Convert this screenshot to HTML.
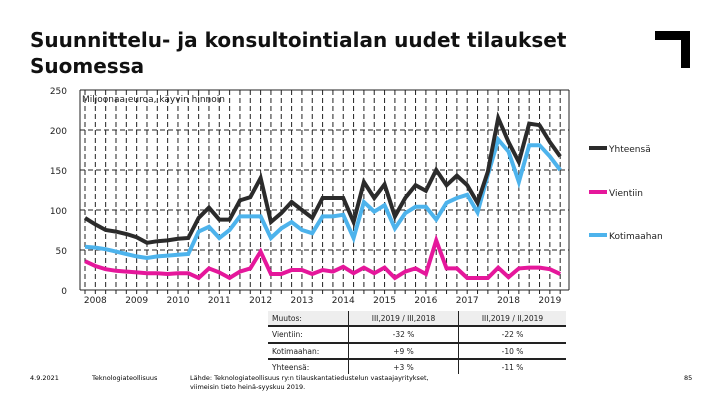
<!DOCTYPE html>
<html><head><meta charset="utf-8"><style>
body{margin:0;width:720px;height:405px;background:#fff;font-family:"DejaVu Sans","Liberation Sans",sans-serif;overflow:hidden;position:relative}
.t{position:absolute;white-space:nowrap}
.c2{position:absolute;left:81px;width:109px;text-align:center}
.c3{position:absolute;left:191px;width:107px;text-align:center}
</style></head><body>
<div class="t" style="left:30px;top:27px;font-size:20px;font-weight:bold;line-height:26px;color:#111">Suunnittelu- ja konsultointialan uudet tilaukset<br>Suomessa</div>
<svg style="position:absolute;left:650px;top:28px" width="45" height="42"><path d="M5 3H40V40H31V12H5Z" fill="#000"/></svg>
<svg id="chart" style="position:absolute;left:0;top:0" width="720" height="405"></svg>
<div style="position:absolute;left:268px;top:311px;font-size:7.5px;color:#222">
<div style="position:absolute;left:0;top:0;width:298px;height:14px;background:#eee"></div>
<div class="t" style="left:4px;top:3px">Muutos:</div><div class="c2" style="top:3px">III,2019 / III,2018</div><div class="c3" style="top:3px">III,2019 / II,2019</div>
<div class="t" style="left:4px;top:19px">Vientiin:</div><div class="c2" style="top:19px">-32 %</div><div class="c3" style="top:19px">-22 %</div>
<div class="t" style="left:4px;top:36px">Kotimaahan:</div><div class="c2" style="top:36px">+9 %</div><div class="c3" style="top:36px">-10 %</div>
<div class="t" style="left:4px;top:52px">Yhteensä:</div><div class="c2" style="top:52px">+3 %</div><div class="c3" style="top:52px">-11 %</div>
<div style="position:absolute;left:0;top:14px;width:298px;height:2px;background:#222"></div>
<div style="position:absolute;left:0;top:31px;width:298px;height:2px;background:#222"></div>
<div style="position:absolute;left:0;top:47px;width:298px;height:2px;background:#222"></div>
<div style="position:absolute;left:80px;top:0;width:1px;height:63px;background:#222"></div>
<div style="position:absolute;left:190px;top:0;width:1px;height:63px;background:#222"></div>
</div>
<div class="t" style="left:30px;top:374px;font-size:6.5px">4.9.2021</div>
<div class="t" style="left:92px;top:374px;font-size:6.5px">Teknologiateollisuus</div>
<div class="t" style="left:190px;top:374px;font-size:6.5px;line-height:9px">Lähde: Teknologiateollisuus ry:n tilauskantatiedustelun vastaajayritykset,<br>viimeisin tieto heinä-syyskuu 2019.</div>
<div class="t" style="left:684px;top:374px;font-size:6.5px">85</div>
<script>
const years=["2008","2009","2010","2011","2012","2013","2014","2015","2016","2017","2018","2019"];
const yTicks=[0,50,100,150,200,250];
const total=[90,82,75,73,70,66,59,61,62,64,65,90,103,88,88,112,116,140,85,96,110,100,90,115,115,115,85,135,115,132,92,115,131,124,150,131,143,131,109,148,215,185,160,208,206,185,167];
const exportS=[36,30,26,24,23,22,21,21,20,21,21,15,27,22,15,23,27,48,20,20,25,25,20,25,23,29,21,28,21,28,15,23,27,20,62,27,27,15,15,15,28,16,27,28,28,26,20];
const domestic=[54,53,51,48,45,42,40,42,43,44,45,73,79,65,75,92,92,92,65,77,85,75,71,92,92,94,65,110,98,106,77,96,104,104,88,109,115,119,97,144,188,173,135,181,181,167,150];
const L=80,R=569,T=90,B=290,x0=85,dx=10.33;
const X=i=>x0+dx*i, Y=v=>B-(v-0)*(B-T)/250;
const s=document.getElementById('chart'),NS="http://www.w3.org/2000/svg";
function el(t,a,txt){const e=document.createElementNS(NS,t);for(const k in a)e.setAttribute(k,a[k]);if(txt!=null)e.textContent=txt;s.appendChild(e);return e;}
for(let i=0;i<total.length;i++){const g=el('line',{x1:X(i),x2:X(i),y1:T,y2:B+4,stroke:'#222','stroke-width':1,'stroke-dasharray':'5,3'});

}
yTicks.forEach(v=>{const g=el('line',{x1:L,x2:R,y1:Y(v),y2:Y(v),stroke:'#222','stroke-width':1,'stroke-dasharray':v==0||v==250?'':'5,3'});


const t=el('text',{x:L-13,y:Y(v)+4,'font-size':9,'text-anchor':'end',fill:'#222'},v);

});
el('line',{x1:L,x2:L,y1:T,y2:B,stroke:'#222'});
el('line',{x1:R,x2:R,y1:T,y2:B,stroke:'#222'});
years.forEach((y,k)=>{const t=el('text',{x:X(4*k+1),y:B+13,'font-size':9,'text-anchor':'middle',fill:'#222'},y);

});
const u=el('text',{x:82,y:102,'font-size':9,fill:'#222'},'Miljoonaa euroa, käyvin hinnoin');


function line(d,c,name){const p=el('polyline',{points:d.map((v,i)=>X(i)+','+Y(v)).join(' '),fill:'none',stroke:c,'stroke-width':4,'stroke-linejoin':'miter'});

}
line(domestic,'#4db3ec','series-kotimaahan');
line(exportS,'#e5179b','series-vientiin');
line(total,'#2b2b2b','series-yhteensa');
[['Yhteensä','#2b2b2b',148],['Vientiin','#e5179b',192],['Kotimaahan','#4db3ec',235]].forEach(([n,c,y])=>{
const l=el('line',{x1:589,x2:607,y1:y,y2:y,stroke:c,'stroke-width':4});


const t=el('text',{x:609,y:y+4,'font-size':9,fill:'#222'},n);

});
</script>
</body></html>
